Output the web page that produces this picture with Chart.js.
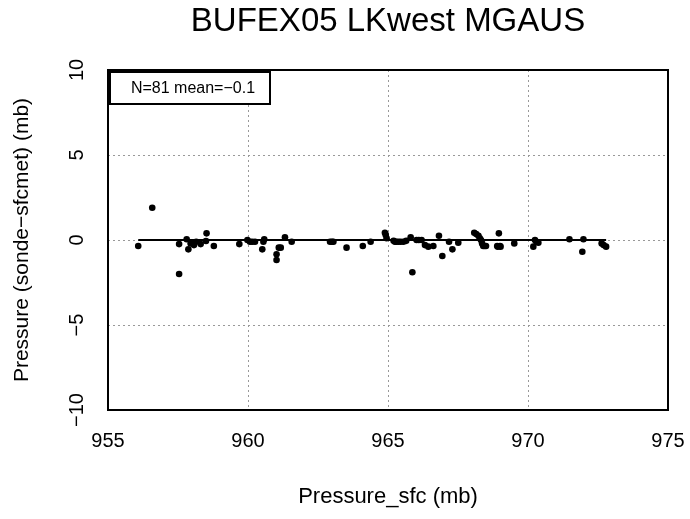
<!DOCTYPE html>
<html>
<head>
<meta charset="utf-8">
<script src="https://cdn.jsdelivr.net/npm/chart.js@4/dist/chart.umd.min.js"></script>
<style>
  html, body { margin: 0; padding: 0; background: #fff; }
  #wrap { width: 690px; height: 519px; }
</style>
</head>
<body>
<div id="wrap"><canvas id="c" width="690" height="519"></canvas></div>
<script>
const titleText = "BUFEX05 LKwest MGAUS";
const xTitle = "Pressure_sfc (mb)";
const yTitle = "Pressure (sonde\u2212sfcmet) (mb)";
const statText = "N=81 mean=\u22120.1";

const pressureSfc = [
  956.08, 956.58, 957.54, 957.54, 957.81, 957.87, 958.07, 958.31, 958.52, 958.50,
  958.78, 959.69, 959.98, 960.07, 960.25, 960.51, 960.58, 961.02, 961.02, 961.17,
  961.32, 961.56, 962.93, 963.05, 963.52, 964.10, 964.38, 964.89, 964.95, 965.25,
  965.37, 965.55, 965.81, 965.87, 966.02, 966.20, 966.32, 966.44, 966.62, 966.82,
  966.94, 967.18, 967.30, 967.51, 968.08, 968.23, 968.32, 968.40, 968.50, 968.96,
  968.92, 969.02, 969.51, 970.19, 970.25, 970.37, 971.48, 971.98, 971.94, 972.63,
  972.79, 957.95, 958.15, 960.15, 963.00, 965.30, 965.45, 965.65, 968.15, 968.28,
  968.36, 968.45, 968.90, 969.00, 965.20, 964.92, 966.10, 970.30, 972.70, 961.10,
  960.55
];
const pressureDiff = [
  -0.35, 1.90, -0.24, -2.00, 0.04, -0.55, -0.30, -0.24, 0.39, -0.06,
  -0.35, -0.24, 0.00, -0.10, -0.10, -0.55, 0.04, -0.84, -1.18, -0.45,
  0.16, -0.10, -0.10, -0.10, -0.45, -0.35, -0.10, 0.43, 0.10, -0.10,
  -0.10, -0.10, 0.16, -1.90, 0.00, 0.00, -0.30, -0.39, -0.35, 0.25,
  -0.94, -0.10, -0.55, -0.16, 0.43, 0.25, 0.00, -0.35, -0.35, 0.39,
  -0.39, -0.39, -0.20, -0.39, 0.00, -0.16, 0.04, 0.04, -0.69, -0.20,
  -0.39, -0.20, -0.10, -0.10, -0.10, -0.10, -0.10, -0.05, 0.35, 0.10,
  -0.20, -0.35, -0.35, -0.35, -0.05, 0.30, 0.00, -0.10, -0.30, -0.45,
  -0.10
];
const fitLineX = [956.08, 972.79];
const fitLineY = [0.0, 0.0];

const xTicks = [955, 960, 965, 970, 975];
const yTicks = [-10, -5, 0, 5, 10];

const points = pressureSfc.map((x, i) => ({ x: x, y: pressureDiff[i] }));
const fitLine = fitLineX.map((x, i) => ({ x: x, y: fitLineY[i] }));

const FONT = "'Liberation Sans', Arial, Helvetica, sans-serif";

const boxPlugin = {
  id: 'boxPlugin',
  afterDatasetsDraw(chart) {
    const { ctx, chartArea: a } = chart;
    ctx.save();
    ctx.strokeStyle = '#000';
    ctx.lineWidth = 2;
    ctx.strokeRect(a.left, a.top, a.right - a.left, a.bottom - a.top);
    // stats box
    const bx = a.left + 2, by = a.top + 2, bw = 160, bh = 32;
    ctx.fillStyle = '#fff';
    ctx.fillRect(bx, by, bw, bh);
    ctx.strokeRect(bx, by, bw, bh);
    ctx.fillStyle = '#000';
    ctx.font = "16px " + FONT;
    ctx.textAlign = 'center';
    ctx.textBaseline = 'middle';
    ctx.fillText(statText, bx + bw / 2 + 3, by + bh / 2 + 1);
    ctx.restore();
  }
};

new Chart(document.getElementById('c'), {
  type: 'scatter',
  data: {
    datasets: [
      {
        type: 'line',
        data: fitLine,
        borderColor: '#000',
        borderWidth: 1.8,
        pointRadius: 0,
        fill: false,
        order: 1
      },
      {
        data: points,
        backgroundColor: '#000',
        borderColor: '#000',
        pointRadius: 3.3,
        pointBorderWidth: 0,
        order: 0
      }
    ]
  },
  options: {
    responsive: false,
    animation: false,
    devicePixelRatio: 1,
    layout: { padding: { left: 0, right: 22, top: 0, bottom: 0 } },
    plugins: {
      legend: { display: false },
      tooltip: { enabled: false },
      title: {
        display: true,
        text: titleText,
        fullSize: false,
        color: '#000',
        font: { family: FONT, size: 33, weight: 'normal', lineHeight: 1.2 },
        padding: { top: 2, bottom: 28.4 }
      }
    },
    scales: {
      x: {
        type: 'linear',
        min: 955, max: 975,
        afterBuildTicks(scale) { scale.ticks = xTicks.map(v => ({ value: v })); },
        afterFit(scale) {
          scale.height = 109;
          scale.paddingLeft = 0;
          scale.paddingRight = 0;
        },
        ticks: {
          color: '#000',
          padding: 19,
          maxRotation: 0,
          font: { family: FONT, size: 20 },
          callback: v => String(v).replace('-', '\u2212')
        },
        grid: { color: '#999', lineWidth: 1, drawTicks: false, tickLength: 0 },
        border: { display: false, dash: [2, 3] },
        title: {
          display: true,
          text: xTitle,
          color: '#000',
          font: { family: FONT, size: 22 },
          padding: { top: 0, bottom: 8.8 }
        }
      },
      y: {
        type: 'linear',
        min: -10, max: 10,
        afterBuildTicks(scale) { scale.ticks = yTicks.map(v => ({ value: v })); },
        afterFit(scale) {
          scale.width = 108;
          scale.paddingTop = 0;
          scale.paddingBottom = 0;
        },
        ticks: {
          color: '#000',
          padding: 14,
          minRotation: 90,
          maxRotation: 90,
          crossAlign: 'center',
          font: { family: FONT, size: 20 },
          callback: v => String(v).replace('-', '\u2212')
        },
        grid: { color: '#999', lineWidth: 1, drawTicks: false, tickLength: 0 },
        border: { display: false, dash: [2, 3] },
        title: {
          display: true,
          text: yTitle,
          color: '#000',
          font: { family: FONT, size: 21 },
          padding: { top: 9.4, bottom: 0 }
        }
      }
    }
  },
  plugins: [boxPlugin]
});
</script>
</body>
</html>
